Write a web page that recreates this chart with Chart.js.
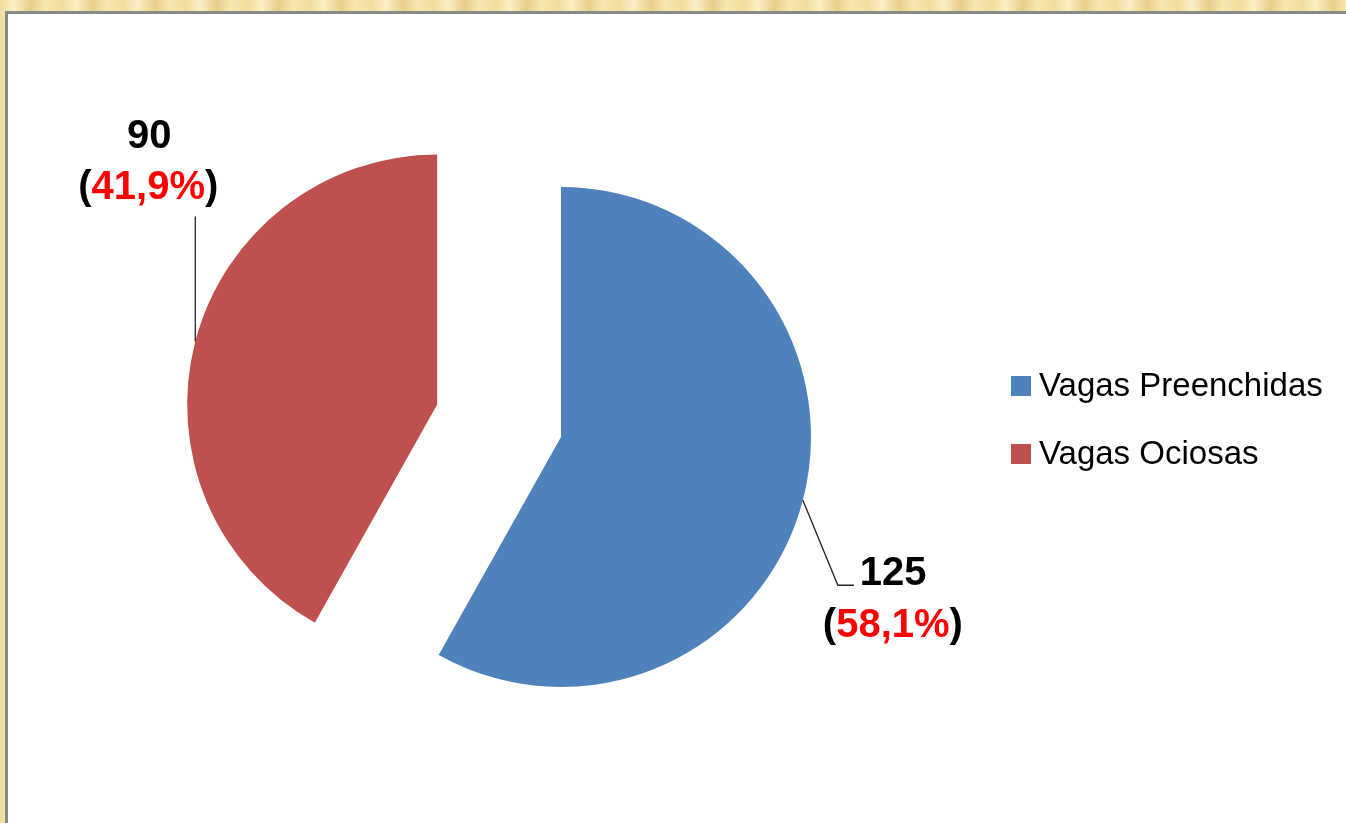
<!DOCTYPE html>
<html>
<head>
<meta charset="utf-8">
<script src="https://cdn.jsdelivr.net/npm/chart.js@4.4.0/dist/chart.umd.min.js"></script>
<style>
html, body { margin: 0; padding: 0; width: 1346px; height: 823px; overflow: hidden; }
body {
    background: repeating-linear-gradient(90deg, #f2dc9c 0px, #fbefc6 14px, #e8cd88 31px, #f7e7b3 45px, #f2dc9c 62px);
}
#panel {
    position: absolute; left: 5px; top: 11px; right: 0; bottom: 0;
    background: #fff;
    border-left: 3px solid #8a8a8a;
    border-top: 3px solid #8a8a8a;
}
canvas { position: absolute; left: 0; top: 0; }
</style>
</head>
<body>
<div id="panel"></div>
<canvas id="chart" width="1346" height="823"></canvas>
<script>
// data
var labels = ['Vagas Preenchidas', 'Vagas Ociosas'];
var values = [125, 90];
var colors = ['#4F81BD', '#C0504D'];
var explode = [0, 128];   // how far each slice is pulled out

var total = values.reduce(function(a, b) { return a + b; }, 0);
var percents = values.map(function(v) {
    return (v / total * 100).toFixed(1).replace('.', ',') + '%';
});

// leader line + label layout for each slice, relative to the slice's outer mid point
var labelLayout = [
    { line: [[0, 0], [35, 85], [51, 85]], value: [57, 85, 'left'], pct: [90, 137] },
    { line: [[0, 0], [0, -125]], value: [-46, -193, 'center'], pct: [-47, -142] }
];

var FONT = '"Liberation Sans", Arial, sans-serif';

// pull the exploded slices out along their middle angle
var explodePlugin = {
    id: 'explode',
    afterDatasetsUpdate: function(chart) {
        var meta = chart.getDatasetMeta(0);
        meta.data.forEach(function(arc, i) {
            if (!explode[i]) return;
            var mid = (arc.startAngle + arc.endAngle) / 2;
            arc.x += Math.cos(mid) * explode[i];
            arc.y += Math.sin(mid) * explode[i];
        });
    }
};

var labelPlugin = {
    id: 'sliceLabels',
    afterDatasetsDraw: function(chart) {
        var ctx = chart.ctx;
        var meta = chart.getDatasetMeta(0);
        ctx.save();
        meta.data.forEach(function(arc, i) {
            var mid = (arc.startAngle + arc.endAngle) / 2;
            var ax = arc.x + Math.cos(mid) * arc.outerRadius;
            var ay = arc.y + Math.sin(mid) * arc.outerRadius;
            var L = labelLayout[i];

            ctx.strokeStyle = '#222';
            ctx.lineWidth = 1.3;
            ctx.beginPath();
            L.line.forEach(function(p, k) {
                if (k == 0) ctx.moveTo(ax + p[0], ay + p[1]);
                else ctx.lineTo(ax + p[0], ay + p[1]);
            });
            ctx.stroke();

            ctx.font = 'bold 40px ' + FONT;
            ctx.textBaseline = 'alphabetic';
            ctx.fillStyle = '#000';
            ctx.textAlign = L.value[2];
            ctx.fillText(String(values[i]), ax + L.value[0], ay + L.value[1]);

            // "(" black, percentage red, ")" black
            var open = '(', close = ')';
            var w1 = ctx.measureText(open).width;
            var w2 = ctx.measureText(percents[i]).width;
            var w3 = ctx.measureText(close).width;
            var x = ax + L.pct[0] - (w1 + w2 + w3) / 2;
            var y = ay + L.pct[1];
            ctx.textAlign = 'left';
            ctx.fillStyle = '#000';
            ctx.fillText(open, x, y);
            ctx.fillStyle = '#FF0000';
            ctx.fillText(percents[i], x + w1, y);
            ctx.fillStyle = '#000';
            ctx.fillText(close, x + w1 + w2, y);
        });
        ctx.restore();
    }
};

var legendPlugin = {
    id: 'sideLegend',
    afterDraw: function(chart) {
        var ctx = chart.ctx;
        ctx.save();
        ctx.font = '33px ' + FONT;
        ctx.textBaseline = 'middle';
        ctx.textAlign = 'left';
        chart.data.labels.forEach(function(lab, i) {
            var y = 386 + i * 68;
            ctx.fillStyle = chart.data.datasets[0].backgroundColor[i];
            ctx.fillRect(1011, y - 10, 20, 20);
            ctx.fillStyle = '#000';
            ctx.fillText(lab, 1039, y + 1);
        });
        ctx.restore();
    }
};

new Chart(document.getElementById('chart'), {
    type: 'pie',
    data: {
        labels: labels,
        datasets: [{
            data: values,
            backgroundColor: colors,
            borderWidth: 0,
            hoverOffset: 0
        }]
    },
    options: {
        responsive: false,
        devicePixelRatio: 1,
        animation: false,
        events: [],
        layout: { padding: { left: 261, top: 187, right: 485, bottom: 136 } },
        plugins: {
            legend: { display: false },
            tooltip: { enabled: false }
        }
    },
    plugins: [explodePlugin, labelPlugin, legendPlugin]
});
</script>
</body>
</html>
